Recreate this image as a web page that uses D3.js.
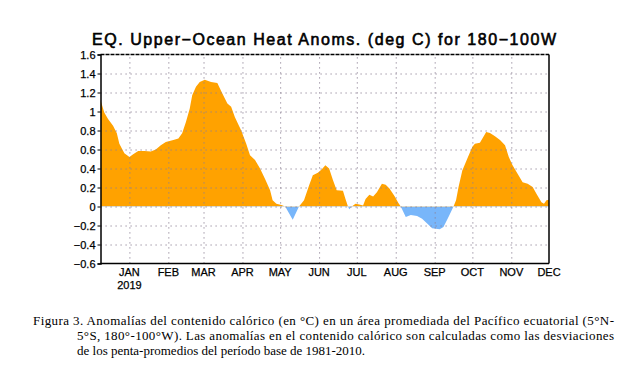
<!DOCTYPE html>
<html>
<head>
<meta charset="utf-8">
<script src="https://cdn.jsdelivr.net/npm/d3@7"></script>
<style>
  body { margin: 0; background: #fff; }
  svg { display: block; }
  .tick-lab { font-family: "Liberation Sans", Arial, sans-serif; font-size: 11px; fill: #000; stroke: #000; stroke-width: 0.25; }
  .cap { font-family: "Liberation Serif", "Times New Roman", serif; font-size: 13px; fill: #000; }
</style>
</head>
<body>
<script>
// DATA (pentad heat content anomalies)
const dates = ["2018-12-09","2018-12-12","2018-12-15","2018-12-19","2018-12-22","2018-12-24","2018-12-28",
  "2019-01-01","2019-01-04","2019-01-08","2019-01-13","2019-01-18","2019-01-22","2019-01-26","2019-01-30",
  "2019-02-05","2019-02-09","2019-02-12","2019-02-15","2019-02-18","2019-02-20","2019-02-23","2019-02-26",
  "2019-03-02","2019-03-07","2019-03-12","2019-03-16","2019-03-20","2019-03-23","2019-03-26","2019-03-31",
  "2019-04-04","2019-04-07","2019-04-11","2019-04-15","2019-04-19","2019-04-23","2019-04-25","2019-04-28",
  "2019-05-02","2019-05-05","2019-05-11","2019-05-16","2019-05-20","2019-05-24","2019-05-27","2019-05-31",
  "2019-06-03","2019-06-06","2019-06-09","2019-06-12","2019-06-15","2019-06-20","2019-06-22","2019-06-24",
  "2019-06-25","2019-06-27","2019-06-30","2019-07-03","2019-07-06","2019-07-08","2019-07-11","2019-07-14",
  "2019-07-17","2019-07-21","2019-07-24","2019-07-27","2019-07-31","2019-08-03","2019-08-05","2019-08-09",
  "2019-08-13","2019-08-18","2019-08-22","2019-08-26","2019-08-30","2019-09-05","2019-09-08","2019-09-12",
  "2019-09-16","2019-09-18","2019-09-20","2019-09-23","2019-09-27","2019-10-01","2019-10-03","2019-10-07",
  "2019-10-09","2019-10-12","2019-10-15","2019-10-19","2019-10-23","2019-10-27","2019-10-30","2019-11-02",
  "2019-11-06","2019-11-10","2019-11-14","2019-11-18","2019-11-21","2019-11-25","2019-11-27","2019-11-29",
  "2019-12-01"];
const anoms = [1.12,0.99,0.92,0.85,0.77,0.66,0.56,
  0.52,0.55,0.585,0.585,0.58,0.60,0.645,0.68,
  0.70,0.715,0.77,0.89,1.03,1.17,1.26,1.31,
  1.335,1.31,1.30,1.19,1.085,1.05,0.94,0.80,
  0.66,0.54,0.49,0.40,0.29,0.17,0.065,0.03,
  0.015,0.0,-0.14,0.0,0.065,0.22,0.33,0.355,
  0.39,0.435,0.40,0.28,0.17,0.165,0.08,0.0,
  -0.03,0.0,0.03,0.02,0.01,0.08,0.125,0.105,
  0.15,0.24,0.23,0.19,0.11,0.04,0.0,-0.11,
  -0.09,-0.10,-0.13,-0.18,-0.23,-0.24,-0.215,-0.11,
  0.0,0.065,0.205,0.38,0.505,0.63,0.66,0.67,
  0.715,0.785,0.775,0.74,0.70,0.645,0.52,0.435,
  0.345,0.255,0.24,0.205,0.135,0.045,0.03,0.065,
  0.07];
const yTicks = [-0.6,-0.4,-0.2,0,0.2,0.4,0.6,0.8,1,1.2,1.4,1.6];
const monthTicks = ["2019-01-01","2019-02-01","2019-03-01","2019-04-01","2019-05-01","2019-06-01",
  "2019-07-01","2019-08-01","2019-09-01","2019-10-01","2019-11-01","2019-12-01"];
const monthLabels = ["JAN","FEB","MAR","APR","MAY","JUN","JUL","AUG","SEP","OCT","NOV","DEC"];
const titleText = "EQ. Upper\u2212Ocean Heat Anoms. (deg C) for 180\u2212100W";
const caption = [
  "Figura 3. Anomalías del contenido calórico (en °C) en un área promediada del Pacífico ecuatorial (5°N-",
  "5°S, 180°-100°W). Las anomalías en el contenido calórico son calculadas como las desviaciones",
  "de los penta-promedios del período base de 1981-2010."
];

// LAYOUT
const W = 644, H = 370;
const plot = { left: 100.5, right: 549, top: 54.5, bottom: 263.5 };

const parse = d3.timeParse("%Y-%m-%d");
const data = dates.map((d, i) => ({ date: parse(d), v: anoms[i] }));

const svg = d3.select("body").append("svg").attr("width", W).attr("height", H);

const x = d3.scaleTime()
  .domain([parse("2018-12-09"), parse("2019-12-01")])
  .range([plot.left, plot.right]);
const y = d3.scaleLinear().domain([-0.6, 1.6]).range([plot.bottom, plot.top]);

// clip paths: above and below zero
const defs = svg.append("defs");
defs.append("clipPath").attr("id", "above").append("rect")
  .attr("x", plot.left).attr("y", plot.top)
  .attr("width", plot.right - plot.left).attr("height", y(0) - plot.top);
defs.append("clipPath").attr("id", "below").append("rect")
  .attr("x", plot.left).attr("y", y(0))
  .attr("width", plot.right - plot.left).attr("height", plot.bottom - y(0));

const area = d3.area()
  .x(d => x(d.date))
  .y0(y(0))
  .y1(d => y(d.v));

svg.append("path").datum(data)
  .attr("d", area).attr("fill", "#ffa200").attr("clip-path", "url(#above)");
svg.append("path").datum(data)
  .attr("d", area).attr("fill", "#78b6fa").attr("clip-path", "url(#below)");

// grid
svg.append("g")
  .attr("transform", `translate(${plot.left},0)`)
  .call(d3.axisLeft(y).tickValues(yTicks.slice(1, -1)).tickSize(-(plot.right - plot.left)).tickFormat(""))
  .call(g => g.select(".domain").remove())
  .call(g => g.selectAll("line").attr("stroke", "#8c8094").attr("stroke-dasharray", "1.2,3.8"));

svg.append("g")
  .attr("transform", `translate(0,${plot.bottom})`)
  .call(d3.axisBottom(x).tickValues(monthTicks.slice(0, -1).map(parse)).tickSize(-(plot.bottom - plot.top)).tickFormat(""))
  .call(g => g.select(".domain").remove())
  .call(g => g.selectAll("line").attr("stroke", "#8c8094").attr("stroke-dasharray", "1.2,3.8"));

// frame
svg.append("line").attr("x1", plot.left).attr("x2", plot.right).attr("y1", plot.top).attr("y2", plot.top)
  .attr("stroke", "#000").attr("stroke-width", 1.5).attr("stroke-dasharray", "4,1");
svg.append("line").attr("x1", plot.right).attr("x2", plot.right).attr("y1", plot.top).attr("y2", plot.bottom)
  .attr("stroke", "#000").attr("stroke-width", 1.5);
svg.append("line").attr("x1", plot.left).attr("x2", plot.right).attr("y1", plot.bottom).attr("y2", plot.bottom)
  .attr("stroke", "#000").attr("stroke-width", 1.5);

// left axis
const yAxis = svg.append("g")
  .attr("transform", `translate(${plot.left},0)`)
  .call(d3.axisLeft(y).tickValues(yTicks).tickSize(3).tickPadding(2)
    .tickFormat(d => (d < 0 ? "\u2212" : "") + d3.format("")(Math.abs(+d.toFixed(1)))));
yAxis.select(".domain").attr("stroke-width", 1.5);
yAxis.selectAll("text").attr("class", "tick-lab").attr("font-family", null).attr("font-size", null);

// month labels
svg.append("g").selectAll("text")
  .data(monthTicks)
  .join("text")
  .attr("class", "tick-lab")
  .attr("x", d => x(parse(d)))
  .attr("y", 276)
  .attr("text-anchor", "middle")
  .text((d, i) => monthLabels[i]);
svg.append("text").attr("class", "tick-lab")
  .attr("x", x(parse(monthTicks[0]))).attr("y", 289)
  .attr("text-anchor", "middle").text("2019");

// title
svg.append("text")
  .attr("x", 92).attr("y", 45)
  .attr("textLength", 464).attr("lengthAdjust", "spacing")
  .attr("font-family", "'Liberation Sans', Arial, sans-serif")
  .attr("font-size", 16)
  .attr("stroke", "#000").attr("stroke-width", 0.6)
  .text(titleText);

// caption
const capX = [33, 77, 77];
const capLen = [581, 537, null];
caption.forEach((t, i) => {
  const tx = svg.append("text").attr("class", "cap")
    .attr("x", capX[i]).attr("y", 325 + i * 15).text(t);
  if (capLen[i]) tx.attr("textLength", capLen[i]).attr("lengthAdjust", "spacing");
});
</script>
</body>
</html>
